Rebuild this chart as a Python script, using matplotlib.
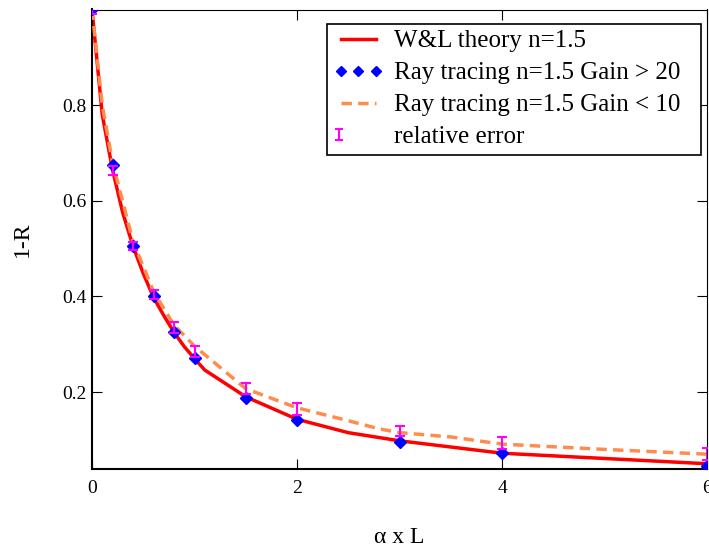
import matplotlib
matplotlib.use('Agg')
import matplotlib.pyplot as plt
from matplotlib.lines import Line2D
from matplotlib.legend_handler import HandlerBase

plt.rcParams['font.family'] = ['Liberation Serif', 'DejaVu Serif']

# W&L theory n=1.5
theory_x = [0, 0.1, 0.2, 0.3, 0.4, 0.5, 0.6, 0.7, 0.8, 0.9, 1.0, 1.1, 1.5, 2.0, 2.5, 3.0, 4.0, 5.0, 6.0]
theory_y = [1.0, 0.78, 0.665, 0.575, 0.505, 0.448, 0.398, 0.36, 0.325, 0.295, 0.27, 0.246,
            0.19, 0.143, 0.115, 0.098, 0.072, 0.061, 0.05]

# ray tracing, gain > 20
ray_x = [0, 0.2, 0.4, 0.6, 0.8, 1.0, 1.5, 2.0, 3.0, 4.0, 6.0]
ray_y = [1.0, 0.675, 0.506, 0.4, 0.326, 0.271, 0.188, 0.142, 0.095, 0.072, 0.046]

# ray tracing, gain < 10
low_x = [0, 0.1, 0.2, 0.4, 0.6, 0.8, 1.0, 1.5, 2.0, 2.5, 2.8, 3.0, 3.5, 4.0, 5.0, 5.3, 6.0]
low_y = [1.0, 0.8, 0.68, 0.515, 0.41, 0.34, 0.296, 0.207, 0.167, 0.14, 0.123, 0.115,
         0.106, 0.091, 0.08, 0.077, 0.07]

# relative error bars
err_y = [1.0, 0.663, 0.506, 0.404, 0.335, 0.285, 0.207, 0.164, 0.118, 0.093, 0.07]
err_size = [0.01, 0.01, 0.008, 0.009, 0.011, 0.012, 0.012, 0.012, 0.011, 0.012, 0.012]

legend_labels = ['W&L theory n=1.5', 'Ray tracing n=1.5 Gain > 20',
                 'Ray tracing n=1.5 Gain < 10', 'relative error']


class ErrHandler(HandlerBase):
    # small magenta "I" at the left of the handle box
    def create_artists(self, legend, orig_handle, xdescent, ydescent,
                       width, height, fontsize, trans):
        x = -xdescent + 0.12 * width
        y = -ydescent + height / 2
        h = 0.3 * height
        c = 0.06 * width
        parts = [Line2D([x, x], [y - h, y + h]),
                 Line2D([x - c, x + c], [y + h, y + h]),
                 Line2D([x - c, x + c], [y - h, y - h])]
        for p in parts:
            p.set_color('#ff00ff')
            p.set_linewidth(1.5)
            p.set_transform(trans)
        return parts


fig = plt.figure(figsize=(7.09, 5.48), dpi=100)
ax = fig.add_axes([92 / 709, 1 - 469 / 548, 615 / 709, 459.5 / 548])

l1, = ax.plot(theory_x, theory_y, color='#ff0000', lw=2.5, zorder=2)
l3, = ax.plot(low_x, low_y, color='#ff8c4c', lw=2.5, ls=(0, (3, 1.8)), zorder=3)
l2, = ax.plot(ray_x, ray_y, ls='none', marker='D', ms=6.5, color='#0000ff', zorder=4)
ax.errorbar(ray_x, err_y, yerr=err_size, fmt='none', ecolor='#ff00ff',
            elinewidth=1.5, capsize=3.5, capthick=1.5, zorder=5)
err_proxy = Line2D([], [], color='#ff00ff')

ax.set_xlim(0, 6)
ax.set_ylim(0.039, 1.0)
ax.set_xticks([0, 2, 4, 6])
ax.set_yticks([0.2, 0.4, 0.6, 0.8])
ax.set_yticklabels(['0.2', '0.4', '0.6', '0.8'])
ax.tick_params(direction='in', length=7, width=0.8, top=True, right=True,
               labelsize=14, colors='black')
ax.tick_params(axis='x', pad=8)
ax.tick_params(axis='y', pad=4)

for side in ['left', 'bottom']:
    ax.spines[side].set_linewidth(1.5)
for side in ['top', 'right']:
    ax.spines[side].set_linewidth(0.8)

ax.set_xlabel('\u03b1 x L', fontsize=17, va='center')
ax.xaxis.set_label_coords(0.5, -0.150)
ax.set_ylabel('1-R', fontsize=17)
ax.yaxis.set_label_coords(-0.096, 0.5)

leg = ax.legend([l1, l2, l3, err_proxy], legend_labels,
                handler_map={err_proxy: ErrHandler()},
                loc='upper right', bbox_to_anchor=(0.382, 0.0, 0.608, 0.969),
                mode='expand', borderaxespad=0,
                fontsize=18, numpoints=3, markerscale=0.75, handlelength=2.0,
                handletextpad=0.45, labelspacing=0.38, borderpad=0.25,
                fancybox=False, framealpha=1, edgecolor='black')
leg.get_frame().set_linewidth(1.2)

fig.savefig('out.png', dpi=100)
